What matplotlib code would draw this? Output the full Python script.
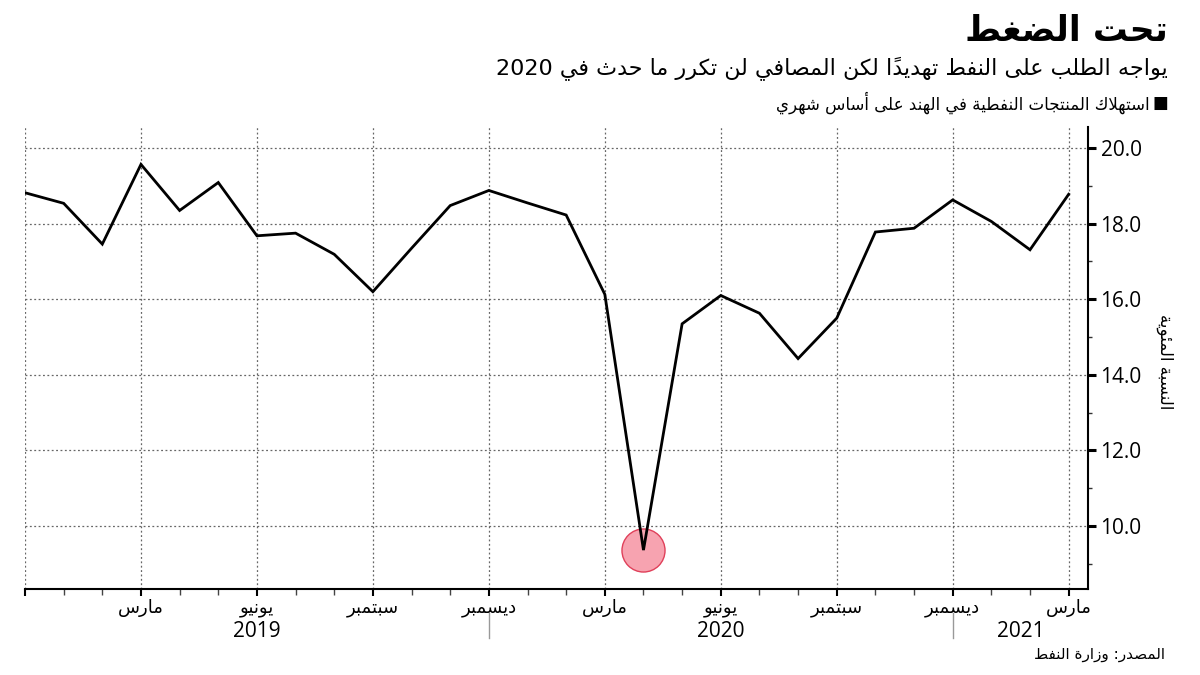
import matplotlib
matplotlib.use('Agg')
import matplotlib.pyplot as plt
import matplotlib.transforms as mtransforms
from matplotlib.ticker import FixedLocator
import numpy as np

# ---------------- data ----------------
values = [18.82, 18.54, 17.46, 19.57, 18.35, 19.09, 17.68, 17.75, 17.19, 16.20,
          17.35, 18.48, 18.88, 18.55, 18.23, 16.13, 9.36, 15.35, 16.10, 15.63,
          14.43, 15.50, 17.78, 17.88, 18.63, 18.06, 17.31, 18.78]   # Dec 2018 .. Mar 2021
tick_months = [0, 3, 6, 9, 12, 15, 18, 21, 24, 27]
tick_labels = ['', 'مارس', 'يونيو', 'سبتمبر', 'ديسمبر', 'مارس', 'يونيو', 'سبتمبر', 'ديسمبر', 'مارس']
year_labels = ['2019', '2020', '2021']
year_bounds = [0, 12, 24, 27.5]
y_ticks = [10, 12, 14, 16, 18, 20]
y_minor = [9, 11, 13, 15, 17, 19]

title = 'تحت الضغط'
subtitle = 'يواجه الطلب على النفط تهديداً لكن المصافي لن تكرر ما حدث في 2020'
legend_text = 'استهلاك المنتجات النفطية في الهند على أساس شهري'
ylabel = 'النسبة المئوية'
source = 'المصدر: وزارة النفط'

# ---------------- minimal Arabic shaping + bidi ----------------
DUAL = {0x0626: 0xFE89, 0x0628: 0xFE8F, 0x062A: 0xFE95, 0x062B: 0xFE99, 0x062C: 0xFE9D,
        0x062D: 0xFEA1, 0x062E: 0xFEA5, 0x0633: 0xFEB1, 0x0634: 0xFEB5, 0x0635: 0xFEB9,
        0x0636: 0xFEBD, 0x0637: 0xFEC1, 0x0638: 0xFEC5, 0x0639: 0xFEC9, 0x063A: 0xFECD,
        0x0641: 0xFED1, 0x0642: 0xFED5, 0x0643: 0xFED9, 0x0644: 0xFEDD, 0x0645: 0xFEE1,
        0x0646: 0xFEE5, 0x0647: 0xFEE9, 0x064A: 0xFEF1}
RIGHT = {0x0622: 0xFE81, 0x0623: 0xFE83, 0x0624: 0xFE85, 0x0625: 0xFE87, 0x0627: 0xFE8D,
         0x0629: 0xFE93, 0x062F: 0xFEA9, 0x0630: 0xFEAB, 0x0631: 0xFEAD, 0x0632: 0xFEAF,
         0x0648: 0xFEED, 0x0649: 0xFEEF}
NONJ = {0x0621: 0xFE80}
LAMALEF = {0x0622: 0xFEF5, 0x0623: 0xFEF7, 0x0625: 0xFEF9, 0x0627: 0xFEFB}


def is_mark(c):
    o = ord(c)
    return 0x064B <= o <= 0x0652 or o == 0x0670


def ar(text):
    toks = []
    i = 0
    while i < len(text):
        c = text[i]
        o = ord(c)
        if o == 0x0644 and i + 1 < len(text) and ord(text[i + 1]) in LAMALEF:
            toks.append(['lamalef', LAMALEF[ord(text[i + 1])], None])
            i += 2
            continue
        if is_mark(c):
            toks.append(['mark', None, c])
        elif o in DUAL:
            toks.append(['dual', DUAL[o], c])
        elif o in RIGHT:
            toks.append(['right', RIGHT[o], c])
        elif o in NONJ:
            toks.append(['none', NONJ[o], c])
        else:
            toks.append(['other', None, c])
        i += 1

    def neighbor(idx, step):
        j = idx + step
        while 0 <= j < len(toks) and toks[j][0] == 'mark':
            j += step
        if 0 <= j < len(toks):
            return toks[j]
        return None

    shaped = []
    for idx, t in enumerate(toks):
        kind = t[0]
        if kind in ('dual', 'right', 'lamalef', 'none'):
            p = neighbor(idx, -1)
            n = neighbor(idx, +1)
            jp = p is not None and p[0] == 'dual'
            jn = kind == 'dual' and n is not None and n[0] in ('dual', 'right', 'lamalef')
            if kind == 'none':
                form = 0
            elif kind == 'dual':
                form = 3 if (jp and jn) else 1 if jp else 2 if jn else 0
            else:
                form = 1 if jp else 0
            shaped.append(('rtl', chr(t[1] + form)))
        elif kind == 'mark':
            shaped.append(('mark', t[2]))
        else:
            c = t[2]
            shaped.append(('ltr' if (c.isascii() and c.isalnum()) else 'neutral', c))

    clusters = []
    for typ, ch in shaped:
        if typ == 'mark' and clusters:
            clusters[-1][1] += ch
        else:
            clusters.append([typ, ch])
    for k in range(1, len(clusters) - 1):
        if clusters[k][1] in '.,' and clusters[k - 1][0] == 'ltr' and clusters[k + 1][0] == 'ltr':
            clusters[k][0] = 'ltr'
    runs = []
    for typ, ch in clusters:
        rt = 'ltr' if typ == 'ltr' else 'rtl'
        if runs and runs[-1][0] == rt:
            runs[-1][1].append(ch)
        else:
            runs.append([rt, [ch]])
    out = []
    for rt, chs in reversed(runs):
        out.append(''.join(chs if rt == 'ltr' else list(reversed(chs))))
    return ''.join(out)


# ---------------- figure ----------------
plt.rcParams['font.family'] = ['DejaVu Sans']
W, H = 1200, 675
fig = plt.figure(figsize=(12, 6.75), dpi=100)
ax = fig.add_axes([25 / W, 1 - 589 / H, (1088 - 25) / W, (589 - 127) / H])

x = np.arange(len(values))
imin = int(np.argmin(values))
ax.plot(x[imin], values[imin], 'o', ms=31, mfc='#f7a3b0', mec='#e0405a', mew=1.0,
        zorder=2, clip_on=False)
ax.plot(x, values, color='black', lw=2, zorder=3, solid_joinstyle='miter')

ax.set_xlim(0, 27.5)
ax.set_ylim(8.33, 20.56)

ax.spines['top'].set_visible(False)
ax.spines['left'].set_visible(False)
for s in ('right', 'bottom'):
    ax.spines[s].set_linewidth(1.5)
    ax.spines[s].set_color('black')

# y axis on right
ax.yaxis.tick_right()
ax.set_yticks(y_ticks)
ax.set_yticklabels([f'{v:.1f}' for v in y_ticks])
ax.yaxis.set_minor_locator(FixedLocator(y_minor))
ax.tick_params(axis='y', which='major', length=6, width=2.2, pad=3, labelsize=15,
               direction='out', color='black')
ax.tick_params(axis='y', which='minor', length=3, width=1, direction='out', color='#333')
for lbl in ax.get_yticklabels():
    lbl.set_fontfamily(['Open Sans', 'DejaVu Sans'])

# x axis
ax.set_xticks(tick_months)
ax.set_xticklabels([ar(t) for t in tick_labels])
ax.xaxis.set_minor_locator(FixedLocator(list(range(len(values)))))
ax.tick_params(axis='x', which='major', length=5, width=1.5, pad=2, labelsize=13,
               direction='out', color='black')
ax.tick_params(axis='x', which='minor', length=4, width=1, direction='out', color='#444')

ax.grid(True, which='major', linestyle=(0, (1.5, 2)), color='#666666', linewidth=0.9)
ax.set_axisbelow(True)

# years
trans = mtransforms.blended_transform_factory(ax.transData, ax.transAxes)
for k, yl in enumerate(year_labels):
    cx = (year_bounds[k] + year_bounds[k + 1]) / 2
    ax.text(cx, -0.093, yl, transform=trans, ha='center', va='center', fontsize=15,
            family=['Open Sans', 'DejaVu Sans'], clip_on=False)
for b in year_bounds[1:-1]:
    ax.plot([b, b], [-0.052, -0.105], transform=trans, color='#999999', lw=1,
            clip_on=False)

# y label
fig.text(1165 / W, 1 - 362 / H, ar(ylabel), rotation=270, ha='center', va='center',
         fontsize=12)

# titles
fig.text(1168 / W, 1 - 31 / H, ar(title), ha='right', va='center', fontsize=25,
         fontweight='bold')
fig.text(1168 / W, 1 - 69 / H, ar(subtitle), ha='right', va='center', fontsize=16)
fig.text(1150 / W, 1 - 103 / H, ar(legend_text), ha='right', va='center', fontsize=12)
fig.text(1168 / W, 1 - 103 / H, '■', ha='right', va='center', fontsize=12)
fig.text(1165 / W, 1 - 655 / H, ar(source), ha='right', va='center', fontsize=11)

fig.savefig('out.png', dpi=100)
